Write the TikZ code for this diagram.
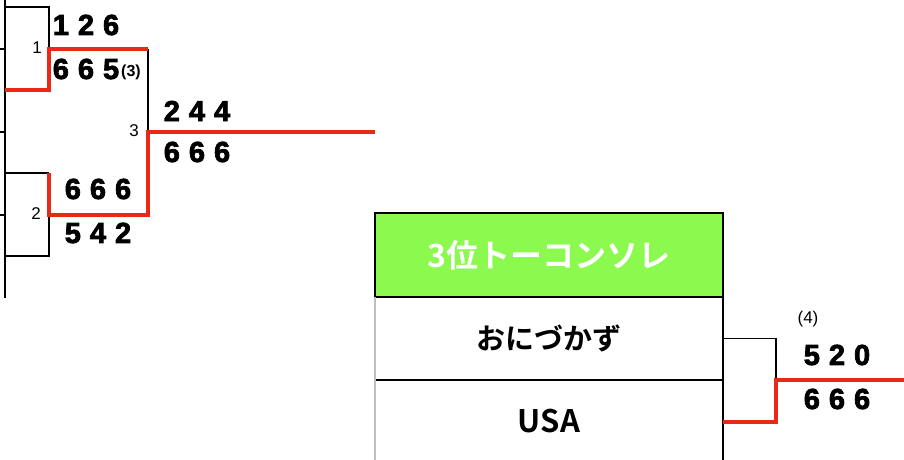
\documentclass[tikz,border=0pt]{standalone}
\usepackage{fontspec}
\setmainfont{Liberation Sans}
\newfontfamily\jpfont{Noto Sans CJK JP Bold}
\newfontfamily\scorefont{Liberation Sans Bold}[FakeBold=2.5]
\usetikzlibrary{positioning}

\definecolor{winred}{RGB}{234,40,22}
\definecolor{titlegreen}{RGB}{139,249,77}
\newlength\digitgap
\setlength\digitgap{9pt}
\newcommand\trio[3]{#1\kern\digitgap#2\kern\digitgap#3}

\begin{document}
\begin{tikzpicture}[x=1pt,y=-1pt,
                    bracket/.style={draw=black,line width=1.2pt},
                    winner/.style={draw=winred,line width=4pt},
                    score/.style={font=\scorefont\fontsize{29}{29}\selectfont,inner sep=0pt},
                    game/.style={font=\fontsize{17}{17}\selectfont,inner sep=0pt},
                    cell/.style={draw=black,line width=1.2pt,minimum width=348pt,inner sep=0pt,outer sep=0pt,
                                 font=\jpfont\fontsize{29}{29}\selectfont}]
  \useasboundingbox (0,0) rectangle (904,459);

  % left column
  \coordinate (colA) at (5,0);
  \coordinate (colB) at (5,298);
  \draw[bracket] (colA) -- (colB);
  \foreach \y [count=\i] in {49,132,215} {
    \coordinate (t\i) at (0,\y);
    \draw[bracket] (t\i) -- (t\i -| colA);
  }

  % games 1, 2, 3
  \coordinate (g1top) at (49,7);
  \coordinate (g1) at (49,49);
  \coordinate (g1bot) at (49,90);
  \coordinate (g2top) at (49,173);
  \coordinate (g2) at (49,215);
  \coordinate (g2bot) at (49,256);
  \coordinate (g3top) at (148,49);
  \coordinate (g3) at (148,132);
  \coordinate (g3bot) at (148,215);
  \coordinate (final) at (375,132);

  \draw[bracket] (g1top -| colA) -- (g1top) -- (g1);
  \draw[bracket] (g2top -| colA) -- (g2top);
  \draw[bracket] (g2) -- (g2bot) -- (g2bot -| colA);
  \draw[bracket] (g3top) -- (g3);
  \draw[winner] (g1bot -| colA) -- (g1bot) -- (g1) -- (g3top);
  \draw[winner] (g2top) -- (g2) -- (g3bot) -- (g3) -- (final);

  \node[game] (n1) at (37,48) {1};
  \node[game] (n2) at (36,214) {2};
  \node[game] (n3) at (134,131) {3};

  \node[score] (s1a) at (86,25) {\trio126};
  \node[score] (s1b) at (86,69) {\trio665};
  \node[font=\bfseries\fontsize{16}{16}\selectfont,inner sep=0pt] (pk1) at (131,72) {(3)};
  \node[score] (s2a) at (98,189) {\trio666};
  \node[score] (s2b) at (98,233) {\trio542};
  \node[score] (s3a) at (197,111) {\trio244};
  \node[score] (s3b) at (197,152) {\trio666};

  % third place match
  \node[cell,fill=titlegreen,text=white,minimum height=84pt,anchor=north west,
        font=\jpfont\fontsize{32}{32}\selectfont] (title) at (375,213) {3位トーコンソレ};
  \node[cell,minimum height=83pt,below=0pt of title] (teamA) {おにづかず};
  \node[cell,minimum height=83pt,below=0pt of teamA,font=\jpfont\fontsize{31}{31}\selectfont] (teamB) {USA};
  \draw[gray!50,line width=1.2pt] (title.south west) -- (teamB.south west);

  \coordinate (g4top) at (776,339);
  \coordinate (g4) at (776,380);
  \coordinate (g4end) at (904,380);
  \draw[bracket] (teamA.east) -- (teamA.east -| g4top) -- (g4);
  \draw[winner] (teamB.east) -- (teamB.east -| g4) -- (g4) -- (g4end);

  \node[game] (n4) at (808,319) {(4)};
  \node[score] (s4a) at (837,355) {\trio520};
  \node[score] (s4b) at (837,399) {\trio666};
\end{tikzpicture}
\end{document}
